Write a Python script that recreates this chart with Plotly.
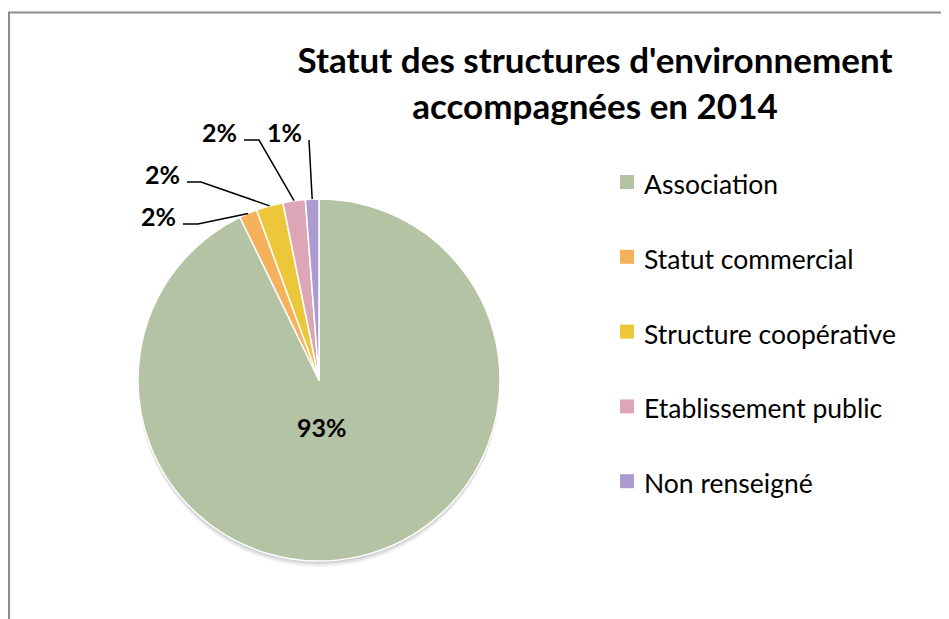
import math
import plotly.graph_objects as go

# Slice data (share of structures, %)
categories = ["Association", "Statut commercial", "Structure coopérative",
              "Etablissement public", "Non renseigné"]
values = [92.8, 1.6, 2.4, 2.0, 1.2]
colors = ["#B4C3A4", "#F6B15D", "#ECC73A", "#DCA6B7", "#AC9BCE"]

# Outside label placement for the small slices (text right edge, text centre y, elbow length) in px
label_right = [None, 178, 182, 239, 304]
label_mid = [None, 216, 174, 132, 132]
elbow_len = [None, 15, 14, 15, 0]

W, H = 949, 619
OFF = 8  # page body margin
cx, cy, r = 319, 380, 181
FONT = "Lato"


def px(x):
    return (x - OFF) / W


def py(y):
    return 1 - (y - OFF) / H


fig = go.Figure()

# soft drop shadow under the pie
for d, a in [(6, 0.05), (4, 0.07), (2, 0.09)]:
    fig.add_trace(go.Pie(
        values=[sum(values)], labels=["shadow"], sort=False,
        marker=dict(colors=[f"rgba(0,0,0,{a})"], line=dict(width=0)),
        textinfo="none", hoverinfo="skip", showlegend=False,
        domain=dict(x=[px(cx - r), px(cx + r)], y=[py(cy + r + d), py(cy - r + d)]),
    ))

fig.add_trace(go.Pie(
    labels=categories,
    values=values,
    sort=False,
    direction="clockwise",
    rotation=0,
    marker=dict(colors=colors, line=dict(color="white", width=1.5)),
    textinfo="none",
    domain=dict(x=[px(cx - r), px(cx + r)], y=[py(cy + r), py(cy - r)]),
    showlegend=False,
    hoverinfo="label+percent",
))

shapes = []
annotations = []
total = sum(values)

# big slice label
annotations.append(dict(
    x=px(cx + 3), y=py(cy + 47), xref="paper", yref="paper",
    xanchor="center", yanchor="middle", showarrow=False,
    text=f"<b>{round(values[0] / total * 100)}%</b>",
    font=dict(family=FONT, size=25, color="black"),
))

# labels + leader lines for the thin slices
for i in range(1, len(values)):
    frac = (sum(values[:i]) + values[i] / 2) / total
    theta = 2 * math.pi * frac
    ex = cx + r * math.sin(theta)
    ey = cy - r * math.cos(theta)
    ly = label_mid[i] + 8
    sx = label_right[i] + 5
    kx = sx + elbow_len[i]
    pct = round(values[i] / total * 100)
    annotations.append(dict(
        x=px(label_right[i]), y=py(label_mid[i]), xref="paper", yref="paper",
        xanchor="right", yanchor="middle", showarrow=False,
        text=f"<b>{pct}%</b>", font=dict(family=FONT, size=25, color="black"),
    ))
    shapes.append(dict(
        type="path", xref="paper", yref="paper",
        path=f"M {px(sx)},{py(ly)} L {px(kx)},{py(ly)} L {px(ex)},{py(ey)}",
        line=dict(color="black", width=1.5),
    ))

# legend drawn by hand to keep the wide spacing
leg_y0, leg_step = 184, 74.8
for i, (name, col) in enumerate(zip(categories, colors)):
    y = leg_y0 + i * leg_step
    shapes.append(dict(
        type="rect", xref="paper", yref="paper",
        x0=px(620), x1=px(634), y0=py(y - 9), y1=py(y + 5),
        fillcolor=col, line=dict(width=0),
    ))
    annotations.append(dict(
        x=px(642), y=py(y), xref="paper", yref="paper",
        xanchor="left", yanchor="middle", showarrow=False,
        text=name, font=dict(family=FONT, size=26.5, color="black"),
    ))

# chart frame
shapes.append(dict(
    type="rect", xref="paper", yref="paper",
    x0=px(9), x1=1.05, y0=-0.05, y1=py(12.5),
    line=dict(color="#8C8C8C", width=2), fillcolor="rgba(0,0,0,0)",
))

fig.update_layout(
    width=W, height=H,
    margin=dict(l=0, r=0, t=0, b=0),
    paper_bgcolor="white",
    plot_bgcolor="white",
    title=dict(
        text="<b>Statut des structures d'environnement<br>accompagnées en 2014</b>",
        x=px(595), xanchor="center", y=py(73), yanchor="top",
        font=dict(family=FONT, size=35, color="black"),
    ),
    shapes=shapes,
    annotations=annotations,
)

fig.write_html("out.html")
